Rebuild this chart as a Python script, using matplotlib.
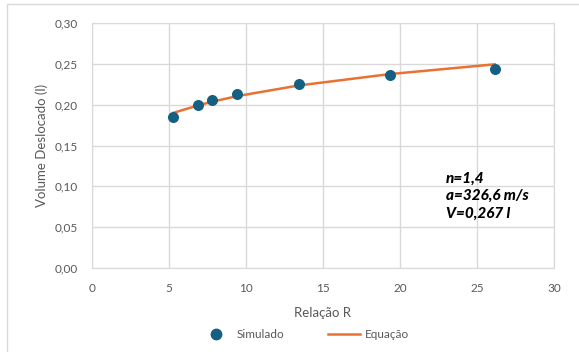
import matplotlib.pyplot as plt
from matplotlib.lines import Line2D

# simulated points
r_sim = [5.28, 6.88, 7.77, 9.44, 13.42, 19.37, 26.15]
v_sim = [0.1845, 0.1996, 0.2060, 0.2135, 0.2257, 0.2363, 0.2437]

# equation curve
r_eq = [5.28, 6.88, 7.77, 9.44, 13.42, 19.37, 26.15]
v_eq = [0.190, 0.199, 0.2035, 0.2105, 0.2235, 0.2375, 0.2494]

x_ticks = [0, 5, 10, 15, 20, 25, 30]
y_ticks = [0.00, 0.05, 0.10, 0.15, 0.20, 0.25, 0.30]

plt.rcParams['font.family'] = ['Lato', 'DejaVu Sans']
grey = '#595959'

fig = plt.figure(figsize=(5.79, 3.52), dpi=100)
ax = fig.add_axes([92/579, 1-268/352, (554-92)/579, (268-23)/352])

# outer chart frame
fig.patches.append(plt.Rectangle((7/579, -0.01), 1.0, 1-4/352+0.01, transform=fig.transFigure,
                                 fill=False, edgecolor='#d9d9d9', lw=1))

ax.plot(r_eq, v_eq, color='#e97132', lw=1.8, zorder=3)
ax.scatter(r_sim, v_sim, s=48, color='#156082', zorder=4)

ax.set_xlim(0, 30)
ax.set_ylim(0, 0.30)
ax.set_xticks(x_ticks)
ax.set_yticks(y_ticks)
ax.set_xticklabels([str(t) for t in x_ticks])
ax.set_yticklabels([f'{t:.2f}'.replace('.', ',') for t in y_ticks])
ax.grid(True, color='#d9d9d9', lw=1)
ax.set_axisbelow(True)
for s in ax.spines.values():
    s.set_color('#d9d9d9')
ax.tick_params(length=0, labelsize=8.5, colors=grey)
ax.tick_params(axis='x', pad=11)
ax.tick_params(axis='y', pad=10)

ax.set_xlabel('Relação R', fontsize=9.5, color=grey, labelpad=9)
ax.set_ylabel('Volume Deslocado (l)', fontsize=9.5, color=grey, labelpad=5)

ax.text(23.0, 0.088, 'n=1,4\na=326,6 m/s\nV=0,267 l', fontsize=11, fontweight='black',
        fontstyle='italic', color='black', linespacing=1.3, va='center', ha='left')

handles = [Line2D([], [], marker='o', ls='none', color='#156082', markersize=7.5),
           Line2D([], [], color='#e97132', lw=1.8)]
fig.legend(handles, ['Simulado', 'Equação'], loc='center', bbox_to_anchor=(0.526, 1-335/352),
           ncol=2, frameon=False, fontsize=8.5, labelcolor=grey, columnspacing=3.75,
           handlelength=2.7, handletextpad=0.4)

fig.savefig('out.png', dpi=100)
